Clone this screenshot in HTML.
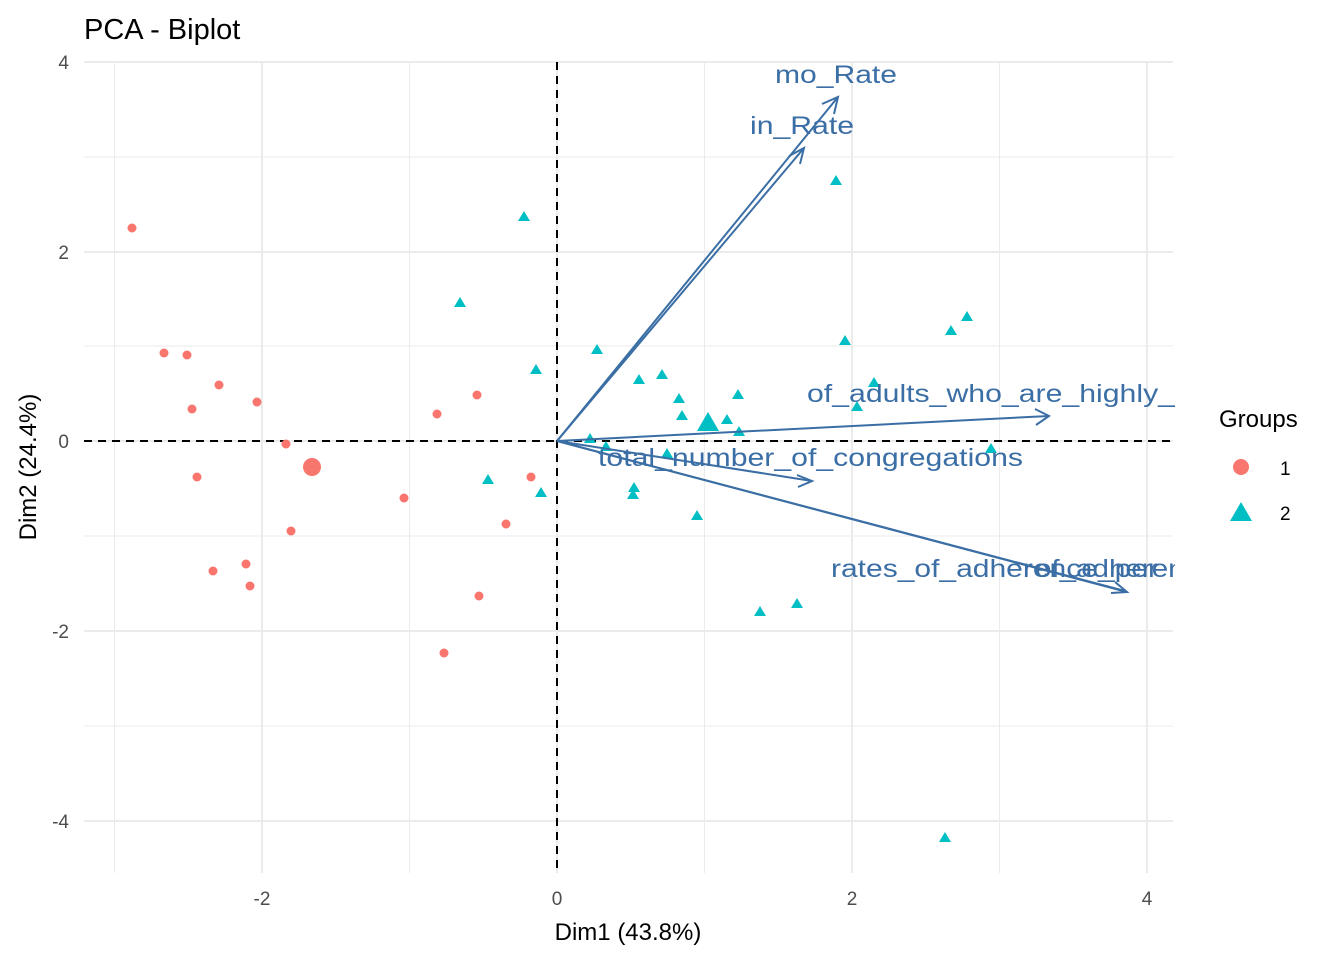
<!DOCTYPE html>
<html><head><style>body{margin:0;background:#fff}svg{display:block;font-family:"Liberation Sans",Arial,sans-serif}</style></head>
<body>
<svg width="1344" height="960" viewBox="0 0 1344 960" xmlns="http://www.w3.org/2000/svg">
<defs><clipPath id="c"><rect x="84" y="40" width="1091" height="840"/></clipPath></defs>
<rect width="1344" height="960" fill="#fff"/>
<g stroke="#ebebeb" stroke-width="1">
<line x1="114.5" y1="62" x2="114.5" y2="873"/><line x1="409.5" y1="62" x2="409.5" y2="873"/><line x1="704.5" y1="62" x2="704.5" y2="873"/><line x1="999.5" y1="62" x2="999.5" y2="873"/>
<line x1="84" y1="157" x2="1173" y2="157"/><line x1="84" y1="346" x2="1173" y2="346"/><line x1="84" y1="536" x2="1173" y2="536"/><line x1="84" y1="726" x2="1173" y2="726"/>
</g>
<g stroke="#ebebeb" stroke-width="2">
<line x1="262" y1="62" x2="262" y2="873"/><line x1="557" y1="62" x2="557" y2="873"/><line x1="852" y1="62" x2="852" y2="873"/><line x1="1147" y1="62" x2="1147" y2="873"/>
<line x1="84" y1="62" x2="1173" y2="62"/><line x1="84" y1="252" x2="1173" y2="252"/><line x1="84" y1="441" x2="1173" y2="441"/><line x1="84" y1="631" x2="1173" y2="631"/><line x1="84" y1="821" x2="1173" y2="821"/>
</g>
<g stroke="#000" stroke-width="2" stroke-dasharray="8,6">
<line x1="557" y1="62" x2="557" y2="873"/><line x1="84" y1="441" x2="1173" y2="441"/>
</g>
<g fill="#F8766D">
<circle cx="132" cy="228" r="4.5"/><circle cx="164" cy="353" r="4.5"/><circle cx="187" cy="355" r="4.5"/><circle cx="219" cy="385" r="4.5"/><circle cx="192" cy="409" r="4.5"/><circle cx="257" cy="402" r="4.5"/><circle cx="286" cy="444" r="4.5"/><circle cx="197" cy="477" r="4.5"/><circle cx="291" cy="531" r="4.5"/><circle cx="246" cy="564" r="4.5"/><circle cx="213" cy="571" r="4.5"/><circle cx="250" cy="586" r="4.5"/><circle cx="404" cy="498" r="4.5"/><circle cx="437" cy="414" r="4.5"/><circle cx="477" cy="395" r="4.5"/><circle cx="531" cy="477" r="4.5"/><circle cx="506" cy="524" r="4.5"/><circle cx="479" cy="596" r="4.5"/><circle cx="444" cy="653" r="4.5"/><circle cx="312" cy="467" r="9"/>
</g>
<g fill="#00BFC4">
<path d="M524,211l6,10h-12z M460,297l6,10h-12z M536,364l6,10h-12z M597,344l6,10h-12z M639,374l6,10h-12z M662,369l6,10h-12z M679,393l6,10h-12z M682,410l6,10h-12z M712,420l6,10h-12z M727,414l6,10h-12z M738,389l6,10h-12z M739,426l6,10h-12z M590,433l6,10h-12z M606,441l6,10h-12z M667,448l6,10h-12z M488,474l6,10h-12z M541,487l6,10h-12z M634,482l6,10h-12z M633,489l6,10h-12z M697,510l6,10h-12z M836,175l6,10h-12z M845,335l6,10h-12z M951,325l6,10h-12z M967,311l6,10h-12z M874,377l6,10h-12z M857,401l6,10h-12z M991,443l6,10h-12z M760,606l6,10h-12z M797,598l6,10h-12z M945,832l6,10h-12z M708,412l11,19h-22z"/>
</g>
<g stroke="#3a6ea5" stroke-width="2" fill="none">
<line x1="557" y1="441" x2="838" y2="97"/><path d="M822,104L838,97L834,114"/>
<line x1="557" y1="441" x2="804" y2="148"/><path d="M789,156L804,148L800,164"/>
<line x1="557" y1="441" x2="1049" y2="416"/><path d="M1035,409L1049,416L1036,425"/>
<line x1="557" y1="441" x2="812" y2="481"/><path d="M797,475L812,481L798,487"/>
<line x1="557" y1="441" x2="1127" y2="592"/><path d="M1111,593L1127,592L1115,582"/>
<line x1="557" y1="441" x2="1125" y2="591"/>
</g>
<g fill="#3a6ea5" font-size="25" clip-path="url(#c)" lengthAdjust="spacingAndGlyphs">
<text x="775" y="83" textLength="122" lengthAdjust="spacingAndGlyphs">mo_Rate</text>
<text x="750" y="134" textLength="104" lengthAdjust="spacingAndGlyphs">in_Rate</text>
<text x="807" y="402" textLength="368" lengthAdjust="spacingAndGlyphs">of_adults_who_are_highly_</text>
<text x="598" y="466" textLength="425" lengthAdjust="spacingAndGlyphs">total_number_of_congregations</text>
<text x="831" y="577" textLength="327" lengthAdjust="spacingAndGlyphs">rates_of_adherence_per</text>
<text x="1035" y="577" textLength="240" lengthAdjust="spacingAndGlyphs">of_adherence_per</text>
</g>
<g font-size="19" fill="#4d4d4d">
<g text-anchor="middle"><text x="262" y="905">-2</text><text x="557" y="905">0</text><text x="852" y="905">2</text><text x="1147" y="905">4</text></g>
<g text-anchor="end"><text x="69" y="69">4</text><text x="69" y="259">2</text><text x="69" y="448">0</text><text x="69" y="638">-2</text><text x="69" y="828">-4</text></g>
</g>
<text x="628" y="940" font-size="24" text-anchor="middle">Dim1 (43.8%)</text>
<text transform="translate(36,467) rotate(-90)" font-size="24" text-anchor="middle">Dim2 (24.4%)</text>
<text x="84" y="39" font-size="29">PCA - Biplot</text>
<text x="1219" y="427" font-size="24">Groups</text>
<circle cx="1241" cy="467" r="8" fill="#F8766D"/>
<text x="1280" y="475" font-size="19">1</text>
<path d="M1241,502l11,19h-22z" fill="#00BFC4"/>
<text x="1280" y="520" font-size="19">2</text>
</svg>
</body></html>
